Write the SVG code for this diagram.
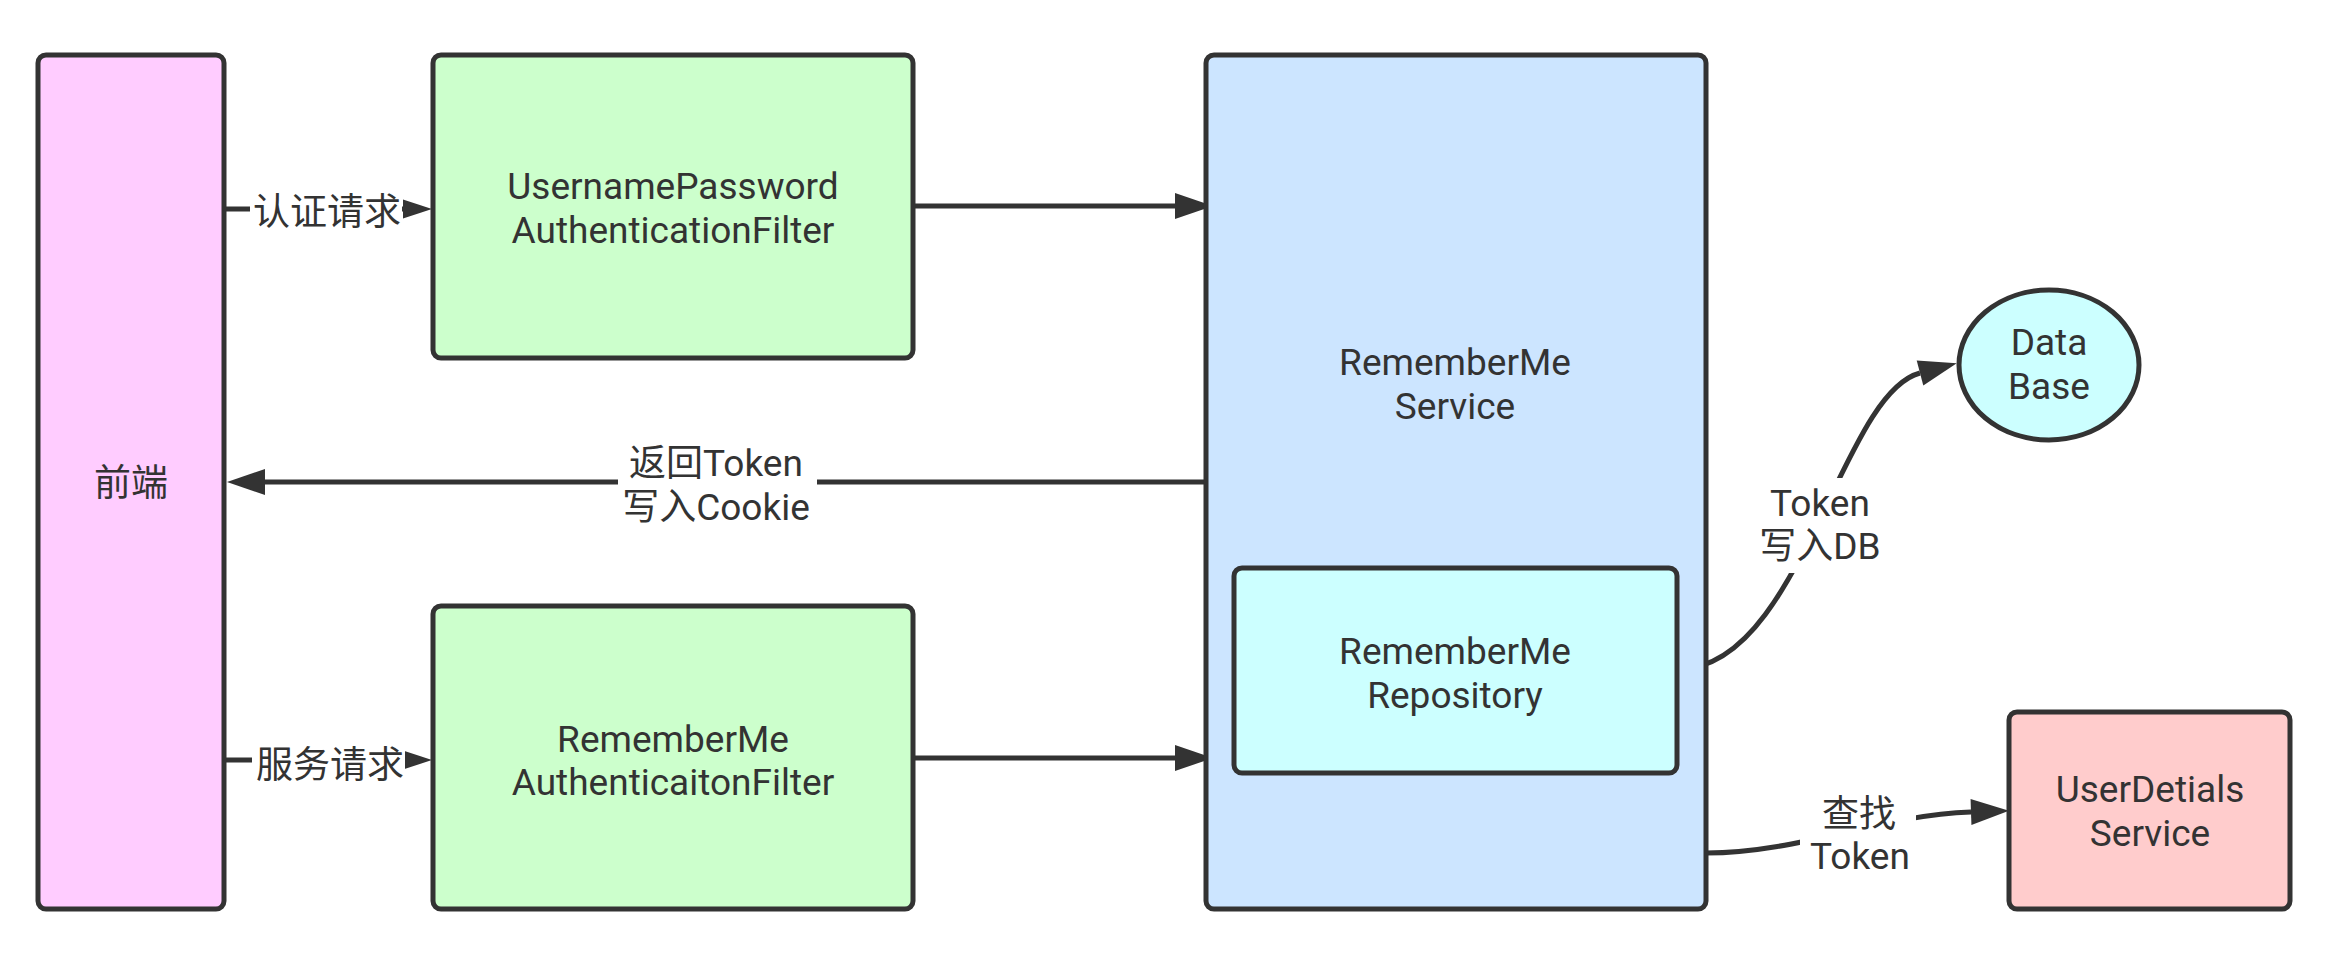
<svg xmlns="http://www.w3.org/2000/svg" width="2339" height="960" viewBox="0 0 2339 960">
<defs>
<style>
.box{stroke:#333333;stroke-width:5}
.t{font-family:Roboto,"Noto Sans CJK SC",sans-serif;font-size:37px;fill:#333333;text-anchor:middle}
.edge{fill:none;stroke:#333333;stroke-width:5}
.bg{fill:#ffffff}
</style>
<marker id="big" markerUnits="userSpaceOnUse" markerWidth="38" markerHeight="26" refX="0" refY="13" orient="auto" overflow="visible">
<path d="M0,0 L38,13 L0,26 Z" fill="#333333"/>
</marker>
<marker id="small" markerUnits="userSpaceOnUse" markerWidth="29" markerHeight="19" refX="0" refY="9.5" orient="auto" overflow="visible">
<path d="M0,0 L29,9.5 L0,19 Z" fill="#333333"/>
</marker>
</defs>
<rect width="2339" height="960" fill="#ffffff"/>

<g id="connectors">
<path class="edge" d="M224,209 H403" marker-end="url(#small)"/>
<path class="edge" d="M913,206 H1175" marker-end="url(#big)"/>
<path class="edge" d="M1205,482 H265" marker-end="url(#big)"/>
<path class="edge" d="M224,760 H403" marker-end="url(#small)"/>
<path class="edge" d="M913,758 H1175" marker-end="url(#big)"/>
<path class="edge" d="M1679,669 C1800,669 1840,394 1920,373" marker-end="url(#big)"/>
<path class="edge" d="M1706,853 C1800,853 1880,815 1971,812" marker-end="url(#big)"/>
<g id="labels">
<rect class="bg" x="250" y="190" width="152" height="42"/>
<text class="t" x="327" y="225">认证请求</text>
<rect class="bg" x="252" y="741" width="153" height="42"/>
<text class="t" x="330" y="778">服务请求</text>
<rect class="bg" x="618" y="446" width="199" height="84"/>
<text class="t" x="716" y="476">返回Token<tspan x="716" dy="44">写入Cookie</tspan></text>
<rect class="bg" x="1757" y="478" width="126" height="95"/>
<text class="t" x="1820" y="516">Token<tspan x="1820" dy="43">写入DB</tspan></text>
<rect class="bg" x="1800" y="792" width="116" height="88"/>
<text class="t" x="1859" y="827">查找<tspan x="1860" dy="42">Token</tspan></text>
</g>
</g>

<g id="frontend">
<rect class="box" x="38" y="55" width="186" height="854" rx="8" fill="#FFCCFF"/>
<text class="t" x="131" y="496">前端</text>
</g>

<g id="upaf">
<rect class="box" x="433" y="55" width="480" height="303" rx="8" fill="#CCFFCC"/>
<text class="t" x="673" y="199">UsernamePassword<tspan x="673" dy="44">AuthenticationFilter</tspan></text>
</g>

<g id="rmaf">
<rect class="box" x="433" y="606" width="480" height="303" rx="8" fill="#CCFFCC"/>
<text class="t" x="673" y="752">RememberMe<tspan x="673" dy="43">AuthenticaitonFilter</tspan></text>
</g>

<g id="rmservice">
<rect class="box" x="1206" y="55" width="500" height="854" rx="8" fill="#CCE5FF"/>
<text class="t" x="1455" y="375">RememberMe<tspan x="1455" dy="44">Service</tspan></text>
</g>

<g id="rmrepo">
<rect class="box" x="1234" y="568" width="443" height="205" rx="8" fill="#CCFFFF"/>
<text class="t" x="1455" y="664">RememberMe<tspan x="1455" dy="44">Repository</tspan></text>
</g>

<g id="database">
<ellipse class="box" cx="2049" cy="365" rx="90" ry="75" fill="#CCFFFF"/>
<text class="t" x="2049" y="355">Data<tspan x="2049" dy="44">Base</tspan></text>
</g>

<g id="uds">
<rect class="box" x="2009" y="712" width="281" height="197" rx="8" fill="#FFCCCC"/>
<text class="t" x="2150" y="802">UserDetials<tspan x="2150" dy="44">Service</tspan></text>
</g>
</svg>
